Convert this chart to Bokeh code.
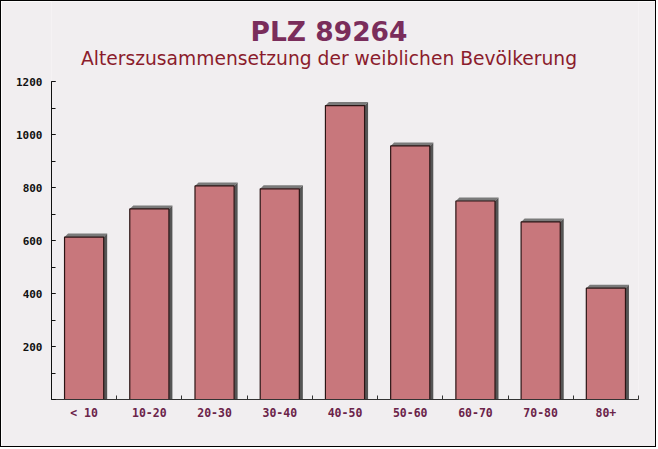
from bokeh.plotting import figure
from bokeh.models import Range1d, FixedTicker, SingleIntervalTicker, Label, ColumnDataSource
from bokeh.embed import file_html
from bokeh.resources import INLINE

categories = ["< 10", "10-20", "20-30", "30-40", "40-50", "50-60", "60-70", "70-80", "80+"]
values = [613, 719, 806, 795, 1109, 957, 749, 670, 420]
title_text = "PLZ 89264"
subtitle_text = "Alterszusammensetzung der weiblichen Bevölkerung"

W, H = 656, 447
B_LEFT, B_RIGHT, B_BOTTOM = 50, 19, 49
YMAX = 1200
AXIS_TOP_PX = 80          # distance of the 1200 line from the canvas top
frame_w = W - B_LEFT - B_RIGHT
frame_h = H - B_BOTTOM
axis_h = frame_h - AXIS_TOP_PX
y_top = YMAX * frame_h / axis_h

BG = "#f1eef0"
p = figure(width=W, height=H, output_backend="svg", toolbar_location=None,
           x_range=Range1d(0, len(categories)), y_range=Range1d(0, y_top),
           min_border_left=B_LEFT, min_border_right=B_RIGHT, min_border_top=0,
           min_border_bottom=B_BOTTOM, title=None)
p.styles = {"border": "1px solid black"}
p.background_fill_color = BG
p.border_fill_color = BG
p.outline_line_color = None
p.grid.visible = False

dx = 3.5 * len(categories) / frame_w
dy = 3.5 * YMAX / axis_h
bw = 0.6

xc = [i + 0.5 for i in range(len(categories))]
x0 = [c - bw / 2 for c in xc]
x1 = [c + bw / 2 for c in xc]

top_xs = [[a, a + dx, b + dx, b] for a, b in zip(x0, x1)]
top_ys = [[v, v + dy, v + dy, v] for v in values]
side_xs = [[b, b + dx, b + dx, b] for b in x1]
side_ys = [[v, v + dy, 0, 0] for v in values]
p.patches(top_xs, top_ys, fill_color="#7a7a7a", line_color=None)
p.patches(side_xs, side_ys, fill_color="#555555", line_color=None)

src = ColumnDataSource(dict(x0=x0, x1=x1, top=values))
p.quad(left="x0", right="x1", top="top", bottom=0, source=src,
       fill_color="#c8777c", line_color="#2b1414", line_width=1.2)

# axes
xa = p.xaxis[0]
xa.ticker = FixedTicker(ticks=xc, minor_ticks=list(range(1, len(categories) + 1)))
xa.major_label_overrides = {c: lab for c, lab in zip(xc, categories)}
xa.major_tick_line_color = None
xa.major_tick_in = 0
xa.major_tick_out = 0
xa.minor_tick_in = 4
xa.minor_tick_out = 0
xa.minor_tick_line_color = "#333333"
xa.axis_line_color = "#333333"
xa.major_label_text_font = "DejaVu Sans Mono"
xa.major_label_text_font_style = "bold"
xa.major_label_text_font_size = "11.5px"
xa.major_label_text_color = "#6b2349"
xa.major_label_standoff = 6

ya = p.yaxis[0]
ya.ticker = SingleIntervalTicker(interval=200, num_minor_ticks=2)
ya.bounds = (0, YMAX)
ya.major_label_overrides = {0: ""}
ya.major_tick_in = 4
ya.major_tick_out = 0
ya.minor_tick_in = 4
ya.minor_tick_out = 0
ya.axis_line_color = "#111111"
ya.major_tick_line_color = "#111111"
ya.minor_tick_line_color = "#111111"
ya.major_label_text_font = "DejaVu Sans Mono"
ya.major_label_text_font_style = "bold"
ya.major_label_text_font_size = "11px"
ya.major_label_text_color = "#111111"
ya.major_label_standoff = 9

cx = len(categories) / 2
p.add_layout(Label(x=cx, y=YMAX, x_offset=-16, y_offset=50, text=title_text,
                   text_align="center", text_baseline="alphabetic",
                   text_font="DejaVu Sans", text_font_style="bold",
                   text_font_size="26.5px", text_color="#7a2d5b"))
p.add_layout(Label(x=cx, y=YMAX, x_offset=-16, y_offset=23, text=subtitle_text,
                   text_align="center", text_baseline="alphabetic",
                   text_font="DejaVu Sans", text_font_size="18.7px", text_color="#8b1c2c"))

open("out.html", "w").write(file_html(p, INLINE))
